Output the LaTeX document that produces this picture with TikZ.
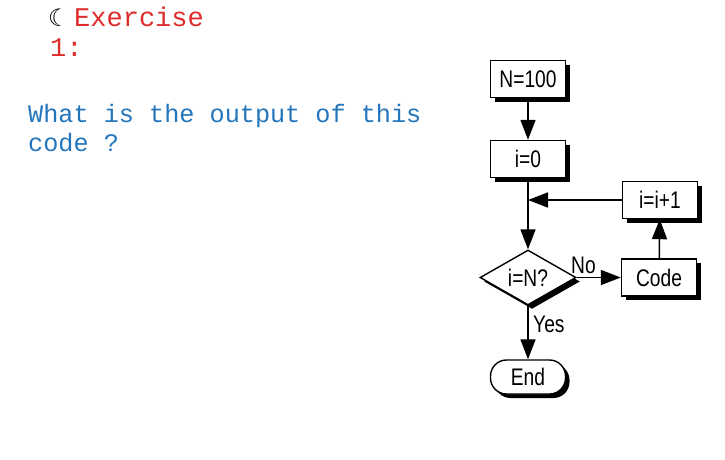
\documentclass[tikz,border=0pt]{standalone}
\usepackage{fontspec}
\usetikzlibrary{arrows.meta,shapes.geometric,shadows}
\newfontfamily\monof{Liberation Mono}
\newfontfamily\flowf[FakeStretch=0.8]{Liberation Sans}
\newfontfamily\symf{DejaVu Sans}
\definecolor{exred}{RGB}{222,44,44}
\definecolor{exblue}{RGB}{36,118,188}
\begin{document}
\begin{tikzpicture}[x=1pt,y=-1pt,
  shad/.style={drop shadow={shadow xshift=4pt,shadow yshift=-4pt,fill=black,opacity=1}},
  fbox/.style={draw=black,line width=1.4pt,fill=white,shad,minimum width=75pt,minimum height=37pt,inner sep=0pt,
    font=\flowf\fontsize{24}{26}\selectfont},
  fdia/.style={diamond,draw=black,line width=1.4pt,fill=white,shad,minimum width=96pt,minimum height=55pt,inner sep=0pt,aspect=1.75,
    font=\flowf\fontsize{24}{26}\selectfont},
  fend/.style={fbox,rounded corners=16pt,minimum height=34pt},
  flow/.style={line width=1.5pt,-{Triangle[length=20pt,width=15pt]}},
  lbl/.style={font=\flowf\fontsize{24}{26}\selectfont,inner sep=0pt,anchor=base west},
  mono/.style={inner sep=0pt,anchor=base west}
]
\useasboundingbox (0,0) rectangle (725,459);
\fill[white] (0,0) rectangle (725,459);
% text
\node[mono] (moon) at (48,26) {\symf\fontsize{24}{26}\selectfont ☾};
\node[mono,text=exred] (ex) at (74,26) {\monof\fontsize{27}{30}\selectfont Exercise};
\node[mono,text=exred] (one) at (50,56) {\monof\fontsize{27}{30}\selectfont 1:};
\node[mono,text=exblue] (q1) at (28,122) {\monof\fontsize{25.2}{29}\selectfont What is the output of this};
\node[mono,text=exblue] (q2) at (28,151) {\monof\fontsize{25.2}{29}\selectfont code ?};
% flowchart
\node[fbox] (n100) at (528,79) {N=100};
\node[fbox] (i0) at (528,159) {i=0};
\node[fbox] (inc) at (660,200) {i=i+1};
\node[fdia] (dia) at (528,277.5) {i=N?};
\node[fbox] (code) at (659,277.5) {Code};
\node[fend] (end) at (528,377) {End};
\coordinate (join) at (528,200);
\draw[flow] (n100) -- (i0);
\draw[line width=1.5pt] (i0) -- (join);
\draw[flow] (join) -- (dia.north);
\draw[flow] (inc) -- (join);
\draw[flow] (dia.east) -- (code.west);
\draw[flow] (code) -- (inc);
\draw[flow] (dia.south) -- (end);
\node[lbl] (no) at (571,273) {No};
\node[lbl] (yes) at (533,332) {Yes};
\end{tikzpicture}
\end{document}
